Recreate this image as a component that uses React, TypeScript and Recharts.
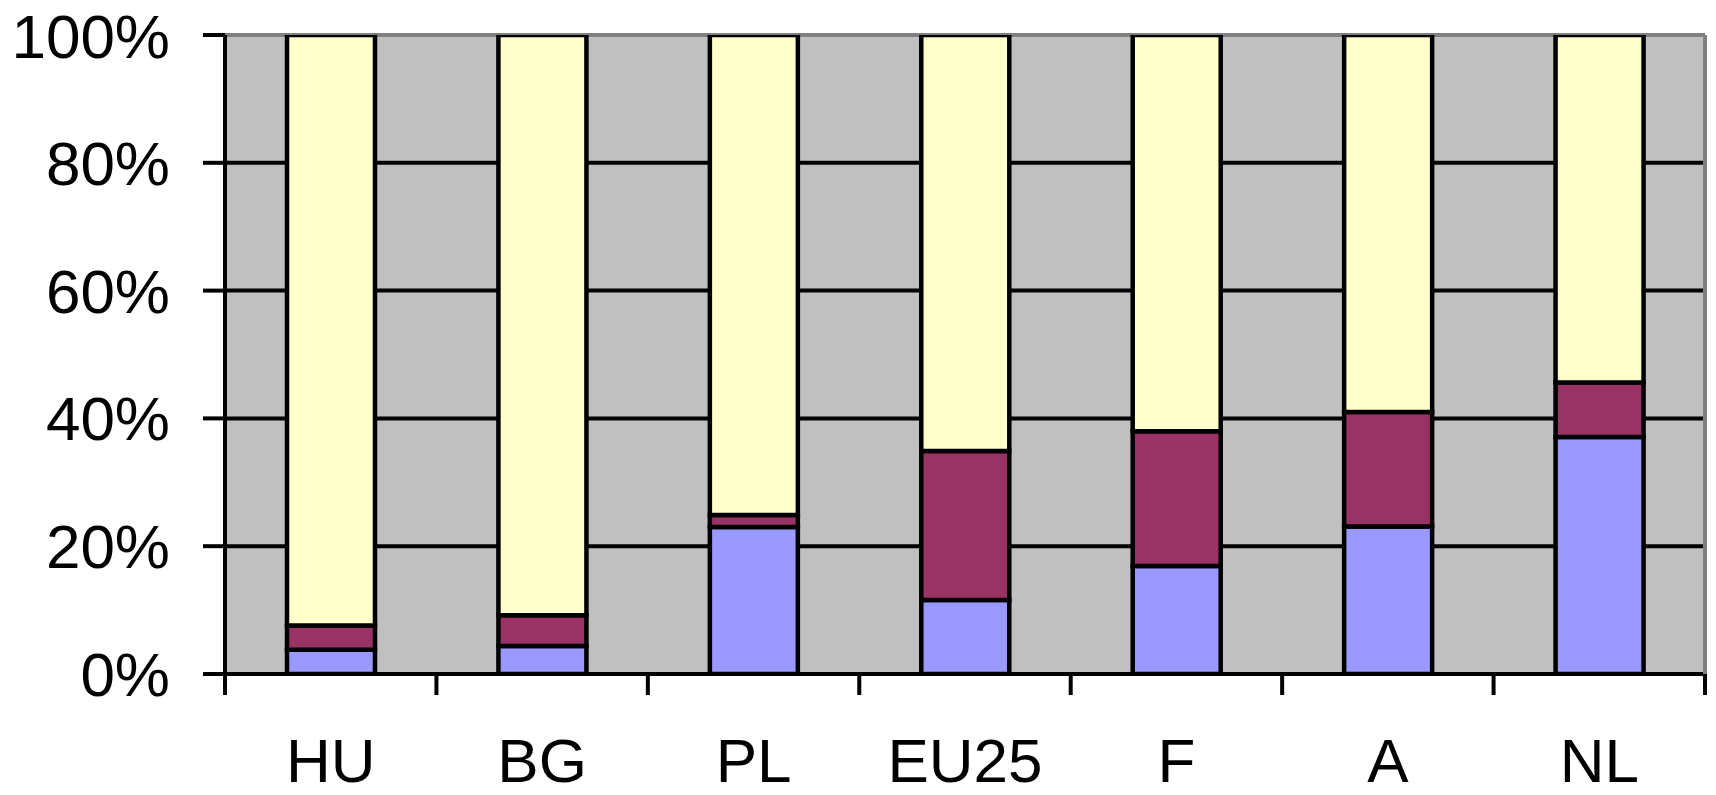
import React from 'react';
import { BarChart, Bar, XAxis, YAxis, CartesianGrid } from 'recharts';

const categories = ['HU', 'BG', 'PL', 'EU25', 'F', 'A', 'NL'];
const seriesBlue = [3.8, 4.4, 23.0, 11.6, 16.9, 23.1, 37.1];
const seriesPurple = [3.8, 4.8, 1.9, 23.3, 21.1, 17.9, 8.5];
const seriesYellow = [92.4, 90.8, 75.1, 65.1, 62.0, 59.0, 54.4];
const yTicks = [0, 20, 40, 60, 80, 100];

const data = categories.map((c, i) => ({
  name: c,
  blue: seriesBlue[i],
  purple: seriesPurple[i],
  yellow: seriesYellow[i],
}));

const W = 1716;
const H = 795;
const TOP = 35;
const LEFT = 225;
const RIGHT = 11;
const XH = 121;
const PLOT_W = W - LEFT - RIGHT;
const FONT = '"Liberation Sans", Arial, sans-serif';
const LW = 4;

const XTick = (props: any) => {
  const { x, y, payload, index } = props;
  const half = PLOT_W / categories.length / 2;
  return (
    <g>
      <line x1={x - half} y1={y} x2={x - half} y2={y + 21} stroke="#000" strokeWidth={LW} />
      {index === categories.length - 1 && (
        <line x1={x + half} y1={y} x2={x + half} y2={y + 21} stroke="#000" strokeWidth={LW} />
      )}
      <text x={x} y={y + 108} textAnchor="middle" fill="#000" fontSize={62} fontFamily={FONT}>
        {payload.value}
      </text>
    </g>
  );
};

const gridLine = (p: any) => (
  <line
    key={p.key}
    x1={p.x1}
    y1={p.y1}
    x2={p.x2}
    y2={p.y2}
    stroke={p.y1 < TOP + 1 ? '#808080' : '#000'}
    strokeWidth={LW}
  />
);

export default function App() {
  return (
    <div style={{ position: 'absolute', left: 0, top: 0, width: W, height: H, background: '#fff' }}>
      <BarChart
        width={W}
        height={H}
        data={data}
        margin={{ top: TOP, right: 0, bottom: 0, left: 0 }}
        barSize={88}
      >
        <CartesianGrid fill="#C0C0C0" fillOpacity={1} vertical={false} horizontal={gridLine} />
        <Bar dataKey="blue" stackId="s" fill="#9999FF" stroke="#000" strokeWidth={4.5} isAnimationActive={false} />
        <Bar dataKey="purple" stackId="s" fill="#993366" stroke="#000" strokeWidth={4.5} isAnimationActive={false} />
        <Bar dataKey="yellow" stackId="s" fill="#FFFFCC" stroke="#000" strokeWidth={4.5} isAnimationActive={false} />
        <XAxis
          dataKey="name"
          height={XH}
          tickLine={false}
          tickSize={0}
          tickMargin={0}
          axisLine={{ stroke: '#000', strokeWidth: LW }}
          tick={<XTick />}
          interval={0}
        />
        <YAxis
          width={LEFT}
          domain={[0, 100]}
          ticks={yTicks}
          allowDataOverflow
          tickFormatter={(v: number) => `${v}%`}
          tickSize={22}
          tickMargin={33}
          tickLine={{ stroke: '#000', strokeWidth: LW }}
          axisLine={{ stroke: '#000', strokeWidth: LW }}
          tick={{ fill: '#000', fontSize: 62, fontFamily: FONT }}
        />
        <YAxis
          yAxisId="right"
          orientation="right"
          width={RIGHT}
          domain={[0, 100]}
          tick={false}
          tickLine={false}
          axisLine={{ stroke: '#808080', strokeWidth: LW }}
        />
      </BarChart>
    </div>
  );
}
